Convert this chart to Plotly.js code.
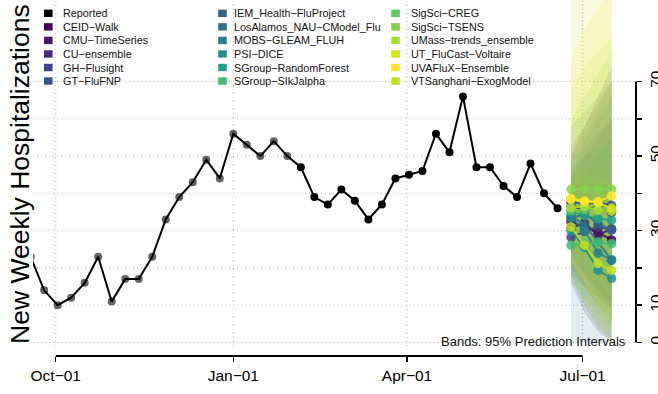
<!DOCTYPE html>
<html><head><meta charset="utf-8">
<script src="https://cdn.plot.ly/plotly-3.0.1.min.js"></script>
<style>html,body{margin:0;padding:0;background:#fff;}#chart{width:658px;height:394px;}</style>
</head><body><div id="chart"></div>
<script>
// ---- data ----
const reportedDates = ['2022-09-18','2022-09-25','2022-10-02','2022-10-09','2022-10-16','2022-10-23','2022-10-30','2022-11-06','2022-11-13','2022-11-20','2022-11-27','2022-12-04','2022-12-11','2022-12-18','2022-12-25','2023-01-01','2023-01-08','2023-01-15','2023-01-22','2023-01-29','2023-02-05','2023-02-12','2023-02-19','2023-02-26','2023-03-05','2023-03-12','2023-03-19','2023-03-26','2023-04-02','2023-04-09','2023-04-16','2023-04-23','2023-04-30','2023-05-07','2023-05-14','2023-05-21','2023-05-28','2023-06-04','2023-06-11','2023-06-18'];
const reportedValues = [23,14,10,12,16,23,11,17,17,23,33,39,43,49,44,56,53,50,54,50,47,39,37,41,38,33,37,44,45,46,56,51,66,47,47,42,39,48,40,36];
const olderCount = 20; // first 20 reported weeks drawn in grey

const forecastDates = ['2023-06-25','2023-07-02','2023-07-09','2023-07-16'];
const modelNames = ['CEID−Walk','CMU−TimeSeries','CU−ensemble','GH−Flusight','GT−FluFNP','IEM_Health−FluProject','LosAlamos_NAU−CModel_Flu','MOBS−GLEAM_FLUH','PSI−DICE','SGroup−RandomForest','SGroup−SIkJalpha','SigSci−CREG','SigSci−TSENS','UMass−trends_ensemble','UT_FluCast−Voltaire','UVAFluX−Ensemble','VTSanghani−ExogModel'];
const modelColors = ['#440154','#48186A','#472D7B','#424086','#3B528B','#33638D','#2D718E','#27808E','#21918C','#1FA088','#3FBC73','#5EC962','#84D44B','#ADDC30','#D8E219','#FDE725','#C2DF23'];
const medians = [
  [32.4,31,29.5,27.5],[30.8,32,28.8,30.5],[36.5,35.8,36.2,34.8],[28.2,29.8,31,30.2],
  [37.6,37.2,37.6,36.8],[33.2,34.5,32,30.2],[34,31.5,27,22],[33.5,30,24,22.2],
  [30,25.5,19.4,17.2],[35,34,33.2,32.8],[26.1,26.5,26.8,26.5],[35.5,35.6,36,35.6],
  [41.1,41.1,41.1,41.1],[36.2,36.5,35.5,35.2],[38.6,38,37.4,36],[38.4,37.8,37.8,39.3],
  [31,26.1,21.2,19.4]];
const lower95 = [
  [16,8,3,0],[20,15,10,6],[24,19,14,10],[18,15,12,9],[28,24,20,16],[22,18,14,10],
  [24,18,12,8],[0,0,0,0],[18,10,4,1],[26,23,20,17],[16,12,8,4],[24,20,16,12],
  [28,24,20,16],[22,16,10,5],[18,10,4,0],[22,16,10,6],[20,12,6,2]];
const upper95 = [
  [50,58,66,74],[44,50,55,60],[52,58,64,70],[40,45,50,55],[48,54,60,66],[46,52,56,60],
  [44,46,44,42],[58,62,66,70],[40,40,38,38],[46,50,52,54],[38,44,50,56],[50,56,62,68],
  [60,66,72,78],[68,74,78,82],[100,110,120,130],[76,84,90,95],[44,46,44,44]];

const xTickVals = ['2022-10-01','2023-01-01','2023-04-01','2023-07-01'];
const xTickText = ['Oct−01','Jan−01','Apr−01','Jul−01'];
const yTickVals = [0,10,20,30,40,50,60,70];
const yTickText = ['0','10','','30','','50','','70'];
const gridY = [0,10,20,30,40,50,60,70];

// ---- helpers ----
function rgba(hex, a){
  const n = parseInt(hex.slice(1),16);
  return 'rgba('+((n>>16)&255)+','+((n>>8)&255)+','+(n&255)+','+a+')';
}
const FONT = 'Liberation Sans, Arial, Helvetica, sans-serif';
const W = 658, H = 394, ML = 33, MR = 22, MT = 0, MB = 38;
const PW = W-ML-MR, PH = H-MT-MB;
const px = x => (x-ML)/PW;
const py = y => (H-MB-y)/PH;

const traces = [];
// bands
modelNames.forEach((m,i)=>{
  traces.push({
    x: forecastDates.concat(forecastDates.slice().reverse()),
    y: lower95[i].concat(upper95[i].slice().reverse()),
    type:'scatter', mode:'lines', fill:'toself',
    fillcolor: rgba(modelColors[i],0.14), line:{width:0, color:rgba(modelColors[i],0)},
    hoverinfo:'skip', showlegend:false
  });
});
// reported: older grey points, line, recent black points
traces.push({x: reportedDates.slice(0,olderCount), y: reportedValues.slice(0,olderCount), type:'scatter', mode:'markers',
  marker:{size:8, color:'#646464'}, showlegend:false, hoverinfo:'skip'});
traces.push({x: reportedDates, y: reportedValues, type:'scatter', mode:'lines',
  line:{width:2, color:'#000'}, showlegend:false, hoverinfo:'skip'});
traces.push({x: reportedDates.slice(olderCount), y: reportedValues.slice(olderCount), type:'scatter', mode:'markers',
  marker:{size:8, color:'#000'}, showlegend:false, hoverinfo:'skip'});
// model medians
modelNames.forEach((m,i)=>{
  traces.push({x: forecastDates, y: medians[i], type:'scatter', mode:'lines+markers',
    line:{width:2, color:rgba(modelColors[i],0.85)}, marker:{size:9.5, color:rgba(modelColors[i],0.85)},
    showlegend:false, hoverinfo:'skip'});
});

const shapes = [];
gridY.forEach(v=>shapes.push({type:'line', layer:'below', xref:'paper', yref:'y', x0:0, x1:px(630), y0:v, y1:v,
  line:{color:'#b4b4b4', width:1, dash:'1px,3px'}}));
xTickVals.forEach(d=>shapes.push({type:'line', layer:'below', xref:'x', yref:'paper', x0:d, x1:d, y0:py(346), y1:1,
  line:{color:'#b4b4b4', width:1, dash:'1px,3px'}}));
// axis lines (R style: from first to last tick)
shapes.push({type:'line', xref:'x', yref:'paper', x0:xTickVals[0], x1:xTickVals[xTickVals.length-1], y0:0, y1:0, line:{color:'#000', width:2}});
shapes.push({type:'line', xref:'paper', yref:'y', x0:1, x1:1, y0:yTickVals[0], y1:yTickVals[yTickVals.length-1], line:{color:'#000', width:2}});

// legend (3 columns, column-major)
const legendNames = ['Reported'].concat(modelNames);
const legendColors = ['#000000'].concat(modelColors);
const colSquareX = [48.3, 222.5, 395.5];
const colTextX = [62, 233, 409.5];
const rowY0 = 13.3, rowStep = 13.55;
const annotations = [];
legendNames.forEach((n,k)=>{
  const c = Math.floor(k/6), r = k%6;
  const yc = rowY0 + r*rowStep;
  shapes.push({type:'rect', xref:'paper', yref:'paper', x0:px(colSquareX[c]-4.3), x1:px(colSquareX[c]+4.3),
    y0:py(yc+3.7), y1:py(yc-3.7), fillcolor:legendColors[k], line:{width:0}});
  annotations.push({text:n, xref:'paper', yref:'paper', x:px(colTextX[c]), y:py(yc), xanchor:'left', yanchor:'middle',
    showarrow:false, borderpad:0, font:{family:FONT, size:10.8, color:'#111'}});
});
annotations.push({text:'New Weekly Hospitalizations', textangle:-90, xref:'paper', yref:'paper', x:px(20), y:py(174),
  xanchor:'center', yanchor:'middle', showarrow:false, borderpad:0, font:{family:FONT, size:26.5, color:'#000'}});
annotations.push({text:'Bands: 95% Prediction Intervals', xref:'paper', yref:'paper', x:px(627), y:py(341.7),
  xanchor:'right', yanchor:'middle', showarrow:false, borderpad:0, font:{family:FONT, size:13, color:'#111'}});

const layout = {
  width:W, height:H, margin:{l:ML, r:MR, t:MT, b:MB, pad:0},
  paper_bgcolor:'#fff', plot_bgcolor:'#fff', showlegend:false,
  xaxis:{type:'date', range:['2022-09-19 05:17','2023-07-28 15:50'], tickvals:xTickVals, ticktext:xTickText,
    ticks:'outside', ticklen:5, tickwidth:1.5, tickcolor:'#000', showgrid:false, zeroline:false, showline:false,
    tickfont:{family:FONT, size:15.5, color:'#000'}},
  yaxis:{range:[-3.62, 91.85], side:'right', tickvals:yTickVals, ticktext:yTickText, ticks:'outside', ticklen:5,
    tickwidth:1.5, tickcolor:'#000', tickangle:-90, showgrid:false, zeroline:false, showline:false,
    tickfont:{family:FONT, size:15.5, color:'#000'}},
  shapes:shapes, annotations:annotations
};
Plotly.newPlot('chart', traces, layout, {displayModeBar:false, staticPlot:true});
</script></body></html>
